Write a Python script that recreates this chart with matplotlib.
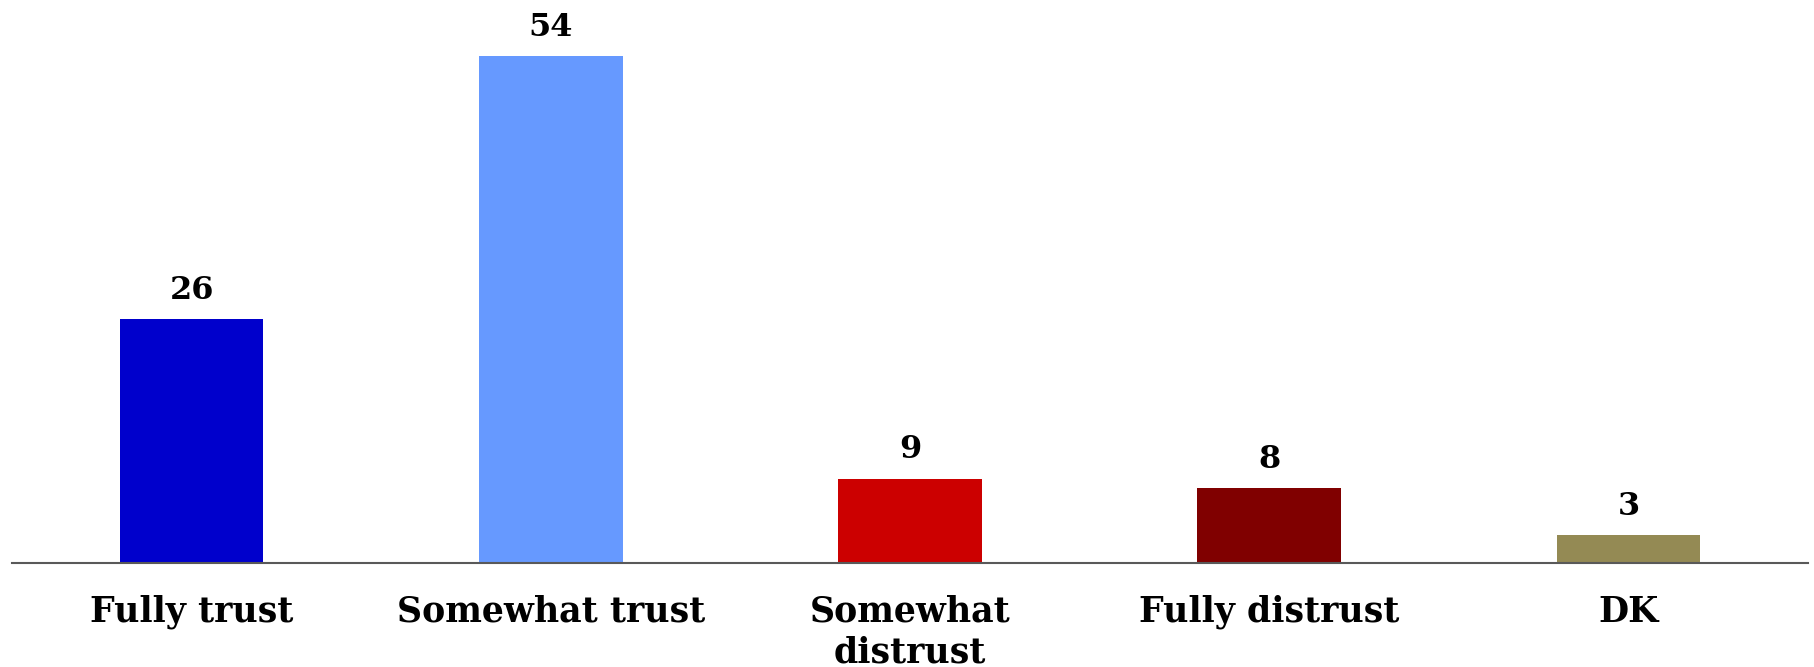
import matplotlib

matplotlib.use("Agg")
import matplotlib.pyplot as plt

categories = ["Fully trust", "Somewhat trust", "Somewhat\ndistrust", "Fully distrust", "DK"]
values = [26, 54, 9, 8, 3]
colors = ["#0000CC", "#6699FF", "#CC0000", "#800000", "#948A54"]

plt.rcParams["font.family"] = ["DejaVu Serif"]

fig = plt.figure(figsize=(18.14, 6.67), dpi=100)
ax = fig.add_axes([12 / 1814, 104 / 667, 1796 / 1814, 563 / 667])

x = range(len(categories))
bars = ax.bar(x, values, width=0.4, color=colors)
for bar, v in zip(bars, values):
    ax.text(bar.get_x() + bar.get_width() / 2, v + 1.4, str(v), ha="center", va="bottom",
            fontsize=23, fontweight="bold")

ax.set_xlim(-0.5, len(categories) - 0.5)
ax.set_ylim(0, 60)
ax.set_xticks(list(x))
ax.set_xticklabels(categories, fontsize=25, fontweight="bold", linespacing=1.25)
ax.tick_params(axis="x", length=0, pad=23)
ax.set_yticks([])
for side in ["left", "right", "top"]:
    ax.spines[side].set_visible(False)
ax.spines["bottom"].set_color("#595959")
ax.spines["bottom"].set_linewidth(1.5)

fig.savefig("out.png", dpi=100)
